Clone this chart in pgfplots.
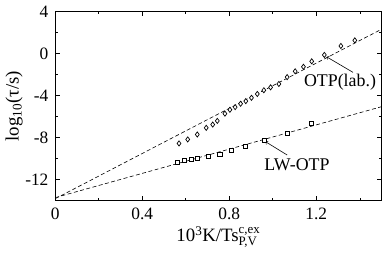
\documentclass[border=0pt]{standalone}
\usepackage{fontspec}
\setmainfont{Liberation Serif}
\usepackage{pgfplots}
\pgfplotsset{compat=1.18}
\begin{document}
\fontsize{17}{20}\selectfont
\begin{tikzpicture}
\begin{axis}[
  scale only axis,
  width=329pt, height=191pt,
  xmin=0, xmax=1.5, ymin=-14, ymax=4,
  xtick={0,0.4,0.8,1.2}, ytick={-12,-8,-4,0,4},
  minor xtick={0.2,0.6,1.0,1.4}, minor ytick={-14,-10,-6,-2,2},
  tick align=inside, tick pos=both,
  major tick length=5pt, minor tick length=3pt,
  /pgf/number format/assume math mode=true,
  tick label style={font=\fontsize{17.5}{20}\selectfont},
  xticklabel style={yshift=-1pt},
  yticklabel style={xshift=-1pt},
  xlabel={10\textsuperscript{3}K/Ts$^{\mbox{\fontsize{13}{15}\selectfont c,ex}}_{\mbox{\fontsize{13}{15}\selectfont P,V}}$},
  ylabel={log\textsubscript{10}(τ/s)},
  label style={font=\fontsize{19}{22}\selectfont},
  xlabel style={yshift=4pt},
  ylabel style={yshift=-9pt},
  axis line style={line width=0.9pt},
  every tick/.style={black, line width=0.6pt},
]
\addplot[black, line width=0.6pt, dash pattern=on 4pt off 2.5pt] coordinates {(0,-13.8) (1.5,2.3)};
\addplot[black, line width=0.6pt, dash pattern=on 4pt off 2.5pt] coordinates {(0,-13.7) (1.5,-5.06)};
\addplot[only marks, mark=diamond*, mark size=2.6pt, mark options={fill=white, draw=black, line width=0.7pt}] coordinates {
(0.569,-8.55) (0.609,-8.17) (0.653,-7.70) (0.694,-7.07) (0.724,-6.76) (0.745,-6.41)
(0.780,-5.72) (0.803,-5.35) (0.827,-5.10) (0.852,-4.78) (0.876,-4.53) (0.902,-4.22)
(0.929,-3.85) (0.959,-3.50) (0.990,-3.22) (1.028,-2.90) (1.066,-2.25) (1.103,-1.70)
(1.141,-1.27) (1.179,-0.75) (1.237,-0.14) (1.313,0.71) (1.377,1.24)
};
\addplot[only marks, mark=square*, mark size=2.1pt, mark options={fill=white, draw=black, line width=0.7pt}] coordinates {
(0.560,-10.37) (0.595,-10.12) (0.625,-10.05) (0.653,-9.96) (0.704,-9.74) (0.757,-9.56)
(0.811,-9.21) (0.873,-8.86) (0.962,-8.24) (1.066,-7.61) (1.179,-6.67)
};
\draw[->, line width=0.6pt] (axis cs:1.369,-1.80) -- (axis cs:1.248,-0.33);
\node[font=\fontsize{18}{21}\selectfont] at (axis cs:1.309,-2.71) {OTP(lab.)};
\draw[->, line width=0.6pt] (axis cs:1.066,-9.65) -- (axis cs:0.967,-8.39);
\node[font=\fontsize{18}{21}\selectfont] at (axis cs:1.111,-10.57) {LW-OTP};
\end{axis}
\end{tikzpicture}
\end{document}
